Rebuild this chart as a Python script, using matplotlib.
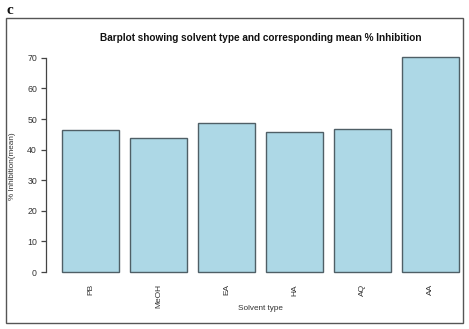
import matplotlib.pyplot as plt
from matplotlib.patches import Rectangle

solvents = ["PB", "MeOH", "EA", "HA", "AQ", "AA"]
mean_inhibition = [46.5, 43.8, 48.7, 45.9, 46.7, 70.4]
y_ticks = [0, 10, 20, 30, 40, 50, 60, 70]

W, H = 469, 329
fig = plt.figure(figsize=(W / 100, H / 100), dpi=100)
plt.rcParams['font.family'] = ['Liberation Sans', 'DejaVu Sans']

# plot region in pixels (R style layout)
left, right, top, bottom = 46, 463, 48, 280.6
ax = fig.add_axes([left / W, 1 - bottom / H, (right - left) / W, (bottom - top) / H])

# R barplot: width 1, space 0.2
x_pos = [0.2 + 1.2 * i + 0.5 for i in range(len(solvents))]
ax.bar(x_pos, mean_inhibition, width=1.0, color='#add8e6',
       edgecolor='#4f5f66', linewidth=1.0)

ax.set_xlim(-0.087, 7.27)
ax.set_ylim(-2.8, 73.2)
for s in ['top', 'right', 'bottom']:
    ax.spines[s].set_visible(False)
ax.spines['left'].set_bounds(0, 70)
ax.spines['left'].set_color('#444444')
ax.spines['left'].set_linewidth(0.9)
ax.set_yticks(y_ticks)
ax.tick_params(axis='y', length=3.5, width=0.9, color='#444444',
               labelsize=6.3, labelcolor='#333333', pad=3)
ax.set_xticks(x_pos)
ax.set_xticklabels(solvents, rotation=90, fontsize=6, color='#333333')
ax.tick_params(axis='x', length=0, pad=2.5)

# title and axis labels placed like R's mtext lines
fig.text(260.5 / W, 1 - 38 / H,
         "Barplot showing solvent type and corresponding mean % Inhibition",
         fontsize=7.2, fontweight='bold', color='#111111', ha='center', va='center')
fig.text(12.5 / W, 1 - 166 / H, "% Inhibition(mean)", fontsize=5.9,
         color='#333333', rotation=90, ha='center', va='center')
fig.text(260.5 / W, 1 - 308 / H, "Solvent type", fontsize=5.9,
         color='#333333', ha='center', va='center')

# outer frame and panel letter
fig.patches.append(Rectangle((5.7 / W, 1 - 322.7 / H), (462.7 - 5.7) / W,
                             (322.7 - 18.3) / H, transform=fig.transFigure,
                             fill=False, edgecolor='#555555', linewidth=1.0))
fig.text(6 / W, 1 - 14 / H, "c", fontsize=11, fontweight='bold',
         family='Liberation Serif', color='#111111')

fig.savefig("out.png", dpi=100)
